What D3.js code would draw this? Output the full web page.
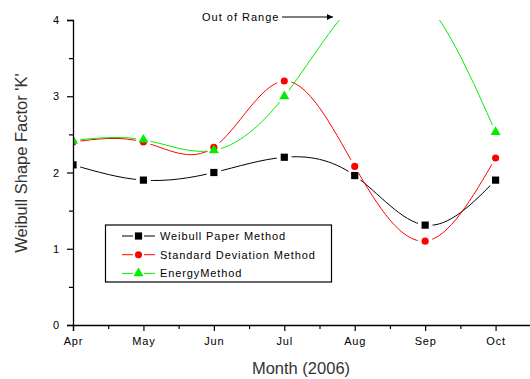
<!DOCTYPE html>
<html>
<head>
<meta charset="utf-8">
<script src="https://cdn.jsdelivr.net/npm/d3@7"></script>
<style>
  html, body { margin: 0; padding: 0; background: #fff; }
  svg { display: block; }
  text { font-family: "Liberation Sans", Arial, sans-serif; }
</style>
</head>
<body>
<svg id="chart" width="530" height="379"></svg>
<script>
// Monthly Weibull shape factor estimates, 2006
const months = ["Apr", "May", "Jun", "Jul", "Aug", "Sep", "Oct"];
const weibullPaper = [2.10, 1.90, 2.00, 2.20, 1.96, 1.31, 1.90];
const stdDeviation = [2.40, 2.40, 2.33, 3.20, 2.08, 1.10, 2.19];
const energyMethod = [2.42, 2.43, 2.29, 3.00, 4.22, 4.24, 2.53];
const yTicks = [0, 1, 2, 3, 4];
const legendLabels = ["Weibull Paper Method", "Standard Deviation Method", "EnergyMethod"];

const svg = d3.select("#chart");
const W = 530, H = 379;
const padLeft = 73, padTop = 20, baseY = 325;

const x = d3.scaleLinear().domain([0, 6.5]).range([padLeft, padLeft + 6.5 * 70.43]);
const y = d3.scaleLinear().domain([0, 4]).range([baseY, padTop]);

const series = [
  { name: legendLabels[0], values: weibullPaper, color: "#000000", shape: "square" },
  { name: legendLabels[1], values: stdDeviation, color: "#ff0000", shape: "circle" },
  { name: legendLabels[2], values: energyMethod, color: "#00ee00", shape: "triangle" }
];

const defs = svg.append("defs");
defs.append("clipPath").attr("id", "plotClip")
  .append("rect").attr("x", padLeft).attr("y", padTop).attr("width", W - padLeft).attr("height", baseY - padTop);

function symbolPath(shape) {
  if (shape === "square") return d3.symbol(d3.symbolSquare, 52)();
  if (shape === "circle") return d3.symbol(d3.symbolCircle, 40)();
  return d3.symbol(d3.symbolTriangle, 44)();
}

// Masks leave a small gap in each line around its own markers
series.forEach((s, i) => {
  const m = defs.append("mask").attr("id", "gap" + i).attr("maskUnits", "userSpaceOnUse")
    .attr("x", 0).attr("y", 0).attr("width", W).attr("height", H);
  m.append("rect").attr("x", 0).attr("y", 0).attr("width", W).attr("height", H).attr("fill", "#fff");
  s.values.forEach((v, j) => {
    m.append("circle").attr("cx", x(j)).attr("cy", y(v)).attr("r", 7.5).attr("fill", "#000");
  });
});

const plot = svg.append("g").attr("clip-path", "url(#plotClip)");
const line = d3.line().x((d, j) => x(j)).y(d => y(d)).curve(d3.curveNatural);

series.forEach((s, i) => {
  plot.append("path")
    .attr("d", line(s.values))
    .attr("fill", "none")
    .attr("stroke", s.color)
    .attr("stroke-width", 1)
    .attr("mask", "url(#gap" + i + ")");
});
series.forEach(s => {
  plot.selectAll(null).data(s.values).enter().append("path")
    .attr("d", symbolPath(s.shape))
    .attr("transform", (d, j) => `translate(${x(j)},${y(d)})`)
    .attr("fill", s.color);
});

// Axes
svg.append("g").attr("transform", `translate(${padLeft},0)`)
  .call(d3.axisLeft(y).tickValues(yTicks).tickFormat(d3.format("d")).tickSize(6).tickPadding(7));
svg.append("g").attr("transform", `translate(${padLeft},0)`)
  .call(d3.axisLeft(y).tickValues(d3.range(0.5, 4, 1)).tickFormat("").tickSize(4))
  .select(".domain").remove();

svg.append("g").attr("transform", `translate(0,${baseY})`)
  .call(d3.axisBottom(x).tickValues(d3.range(0, 7)).tickFormat(i => months[i]).tickSize(6).tickPadding(6));
svg.append("g").attr("transform", `translate(0,${baseY})`)
  .call(d3.axisBottom(x).tickValues(d3.range(0.5, 6, 1)).tickFormat("").tickSize(4))
  .select(".domain").remove();

svg.selectAll(".domain").attr("stroke", "#000").attr("stroke-width", 1.3);
svg.selectAll(".tick line").attr("stroke", "#000").attr("stroke-width", 1.2);
svg.selectAll(".tick text")
  .style("font-family", "'Liberation Sans', Arial, sans-serif")
  .style("font-size", "11px")
  .style("letter-spacing", "0.8px")
  .attr("fill", "#000");

// Axis titles
svg.append("text")
  .attr("x", 301).attr("y", 374)
  .attr("text-anchor", "middle")
  .style("font-size", "16.5px")
  .attr("fill", "#333")
  .text("Month (2006)");
svg.append("text")
  .attr("transform", "translate(27,163) rotate(-90)")
  .attr("text-anchor", "middle")
  .style("font-size", "16.5px")
  .attr("fill", "#333")
  .text("Weibull Shape Factor 'K'");

// Out-of-range annotation
svg.append("text")
  .attr("x", 202).attr("y", 20.5)
  .style("font-size", "11px")
  .style("letter-spacing", "1px")
  .attr("fill", "#000")
  .text("Out of Range");
defs.append("marker").attr("id", "arrowHead")
  .attr("viewBox", "0 0 10 10").attr("refX", 10).attr("refY", 5)
  .attr("markerWidth", 9).attr("markerHeight", 6).attr("markerUnits", "userSpaceOnUse")
  .attr("orient", "auto")
  .append("path").attr("d", "M0,0L10,5L0,10Z").attr("fill", "#000");
svg.append("line")
  .attr("x1", 282).attr("y1", 17).attr("x2", 333).attr("y2", 17)
  .attr("stroke", "#000").attr("stroke-width", 1.2)
  .attr("marker-end", "url(#arrowHead)");

// Legend
const legend = svg.append("g");
legend.append("rect")
  .attr("x", 105.5).attr("y", 225).attr("width", 226).attr("height", 57)
  .attr("fill", "#fff").attr("stroke", "#000").attr("stroke-width", 1.2);
series.forEach((s, i) => {
  const cy = 236 + i * 18.7;
  const g = legend.append("g");
  g.append("line").attr("x1", 122).attr("x2", 133).attr("y1", cy).attr("y2", cy).attr("stroke", s.color);
  g.append("line").attr("x1", 144).attr("x2", 155).attr("y1", cy).attr("y2", cy).attr("stroke", s.color);
  g.append("path").attr("d", symbolPath(s.shape)).attr("transform", `translate(138.5,${cy})`).attr("fill", s.color);
  g.append("text").attr("x", 160).attr("y", cy + 4)
    .style("font-size", "11px").style("letter-spacing", "0.9px")
    .attr("fill", "#000").text(s.name);
});
</script>
</body>
</html>
